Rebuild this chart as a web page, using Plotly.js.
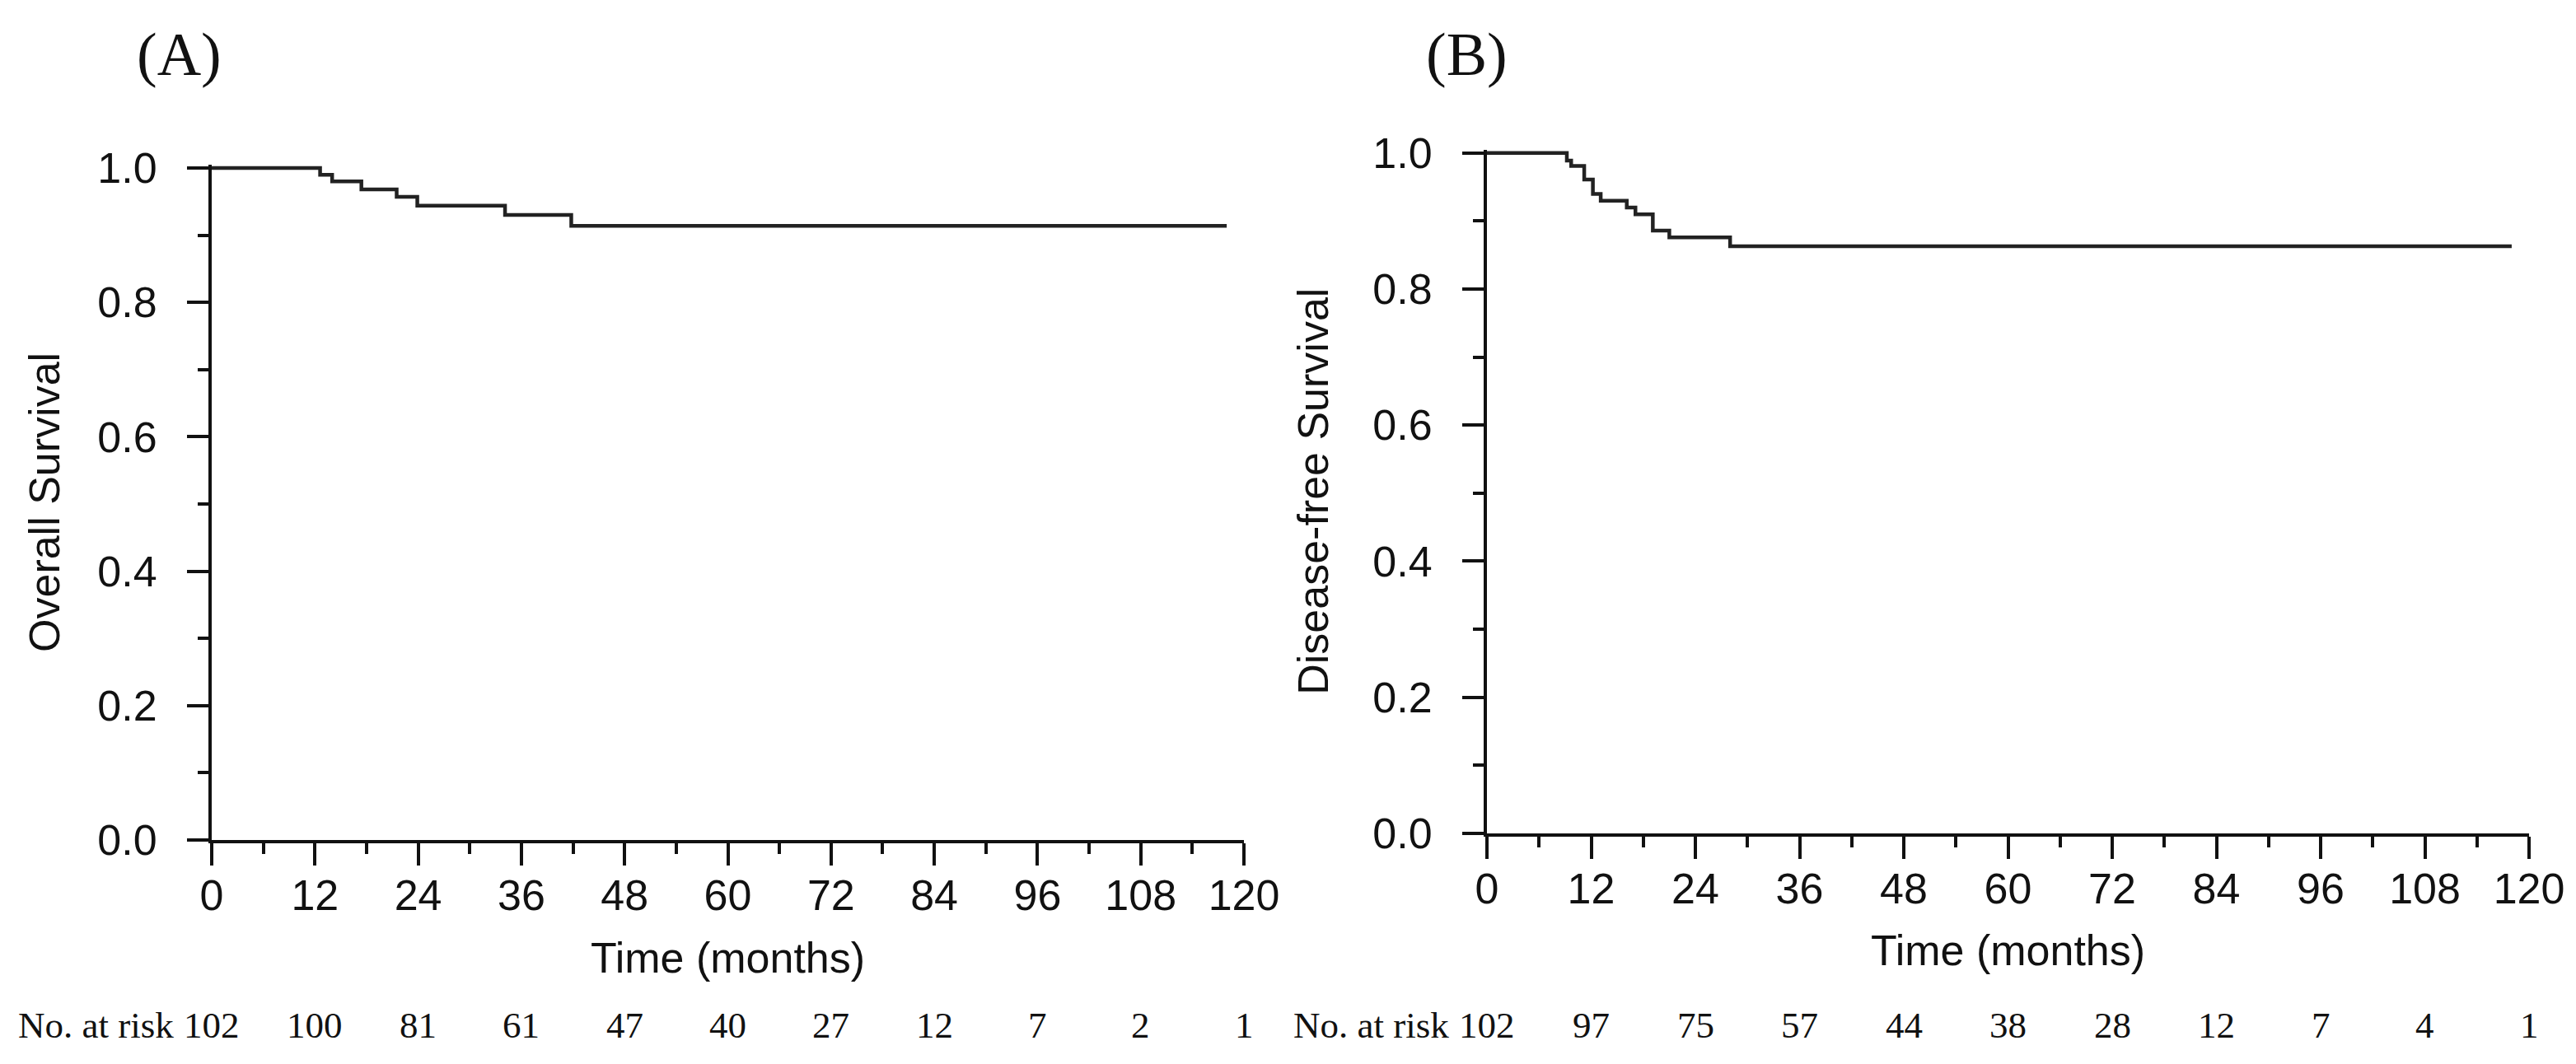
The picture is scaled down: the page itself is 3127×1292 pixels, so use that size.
<!DOCTYPE html>
<html>
<head>
<meta charset="utf-8">
<script src="https://cdn.plot.ly/plotly-3.0.1.min.js"></script>
<style>
html,body{margin:0;padding:0;background:#fff;}
#chart{width:3127px;height:1292px;}
</style>
</head>
<body>
<div id="chart"></div>
<script>
// ---- data ----
var timesA = [0, 12.6, 14.0, 17.4, 21.5, 23.9, 34.1, 41.8, 118];
var survA  = [1.0, 0.990, 0.980, 0.968, 0.957, 0.944, 0.930, 0.914, 0.914];

var timesB = [0, 9.2, 9.7, 11.2, 12.2, 13.1, 16.1, 17.1, 19.1, 21.0, 28.0, 118];
var survB  = [1.0, 0.989, 0.981, 0.961, 0.940, 0.930, 0.920, 0.910, 0.886, 0.876, 0.863, 0.863];

var riskTimes = [0, 12, 24, 36, 48, 60, 72, 84, 96, 108, 120];
var riskA = [102, 100, 81, 61, 47, 40, 27, 12, 7, 2, 1];
var riskB = [102, 97, 75, 57, 44, 38, 28, 12, 7, 4, 1];

var xTickVals = [0, 12, 24, 36, 48, 60, 72, 84, 96, 108, 120];
var yTickVals = [0, 0.2, 0.4, 0.6, 0.8, 1.0];

var titleA = "Overall Survival";
var titleB = "Disease-free Survival";
var xTitle = "Time (months)";
var riskLabel = "No. at risk";
var panelA = "(A)";
var panelB = "(B)";

// ---- styling ----
var SANS = "Liberation Sans, Arial, sans-serif";
var SERIF = "Liberation Serif, Times New Roman, serif";
var INK = "#111";

function xAxis(domain, anchor) {
  return {
    domain: domain, anchor: anchor, range: [0, 120],
    tickmode: "array", tickvals: xTickVals,
    ticks: "outside", ticklen: 27, tickwidth: 4, tickcolor: INK,
    minor: {dtick: 6, tick0: 0, ticks: "outside", ticklen: 13, tickwidth: 4, tickcolor: INK},
    showline: true, linewidth: 4, linecolor: INK,
    showgrid: false, zeroline: false,
    tickfont: {family: SANS, size: 52, color: INK},
    ticklabelstandoff: -8,
    title: {text: xTitle, font: {family: SANS, size: 52, color: INK}, standoff: 30},
    fixedrange: true
  };
}
function yAxis(domain, anchor, t, so) {
  return {
    domain: domain, anchor: anchor, range: [0, 1.005],
    tickmode: "array", tickvals: yTickVals, tickformat: ".1f",
    ticks: "outside", ticklen: 26, tickwidth: 4, tickcolor: INK,
    minor: {dtick: 0.1, tick0: 0, ticks: "outside", ticklen: 13, tickwidth: 4, tickcolor: INK},
    showline: true, linewidth: 4, linecolor: INK,
    showgrid: false, zeroline: false,
    tickfont: {family: SANS, size: 52, color: INK},
    ticklabelstandoff: 26,
    title: {text: t, font: {family: SANS, size: 52, color: INK}, standoff: so},
    fixedrange: true
  };
}

var traces = [
  {x: timesA, y: survA, xaxis: "x", yaxis: "y", type: "scatter", mode: "lines",
   line: {shape: "hv", color: "#222", width: 4.5}, hoverinfo: "x+y", showlegend: false},
  {x: timesB, y: survB, xaxis: "x2", yaxis: "y2", type: "scatter", mode: "lines",
   line: {shape: "hv", color: "#222", width: 4.5}, hoverinfo: "x+y", showlegend: false}
];

var annotations = [];
var riskY = 1 - 1245 / 1292;
function addRisk(xref, counts) {
  annotations.push({xref: xref, yref: "paper", x: 0, y: riskY, xanchor: "right", yanchor: "middle",
    xshift: -44, text: riskLabel, showarrow: false, font: {family: SERIF, size: 45, color: INK}});
  for (var i = 0; i < riskTimes.length; i++) {
    annotations.push({xref: xref, yref: "paper", x: riskTimes[i], y: riskY, xanchor: "center", yanchor: "middle",
      text: String(counts[i]), showarrow: false, font: {family: SERIF, size: 45, color: INK}});
  }
}
addRisk("x", riskA);
addRisk("x2", riskB);
annotations.push({xref: "paper", yref: "paper", x: 217 / 3127, y: 1 - 66 / 1292, xanchor: "center", yanchor: "middle",
  text: panelA, showarrow: false, font: {family: SERIF, size: 74, color: INK}});
annotations.push({xref: "paper", yref: "paper", x: 1780 / 3127, y: 1 - 66 / 1292, xanchor: "center", yanchor: "middle",
  text: panelB, showarrow: false, font: {family: SERIF, size: 74, color: INK}});

var layout = {
  width: 3127, height: 1292,
  margin: {l: 0, r: 0, t: 0, b: 0, pad: 0},
  paper_bgcolor: "#fff", plot_bgcolor: "#fff",
  showlegend: false,
  xaxis: xAxis([257 / 3127, 1510 / 3127], "y"),
  yaxis: yAxis([1 - 1020 / 1292, 1 - 199.9 / 1292], "x", titleA, 30),
  xaxis2: xAxis([1805 / 3127, 3070 / 3127], "y2"),
  yaxis2: yAxis([1 - 1011.7 / 1292, 1 - 181.7 / 1292], "x2", titleB, 38),
  annotations: annotations
};

Plotly.newPlot("chart", traces, layout, {displayModeBar: false, staticPlot: true});
</script>
</body>
</html>
